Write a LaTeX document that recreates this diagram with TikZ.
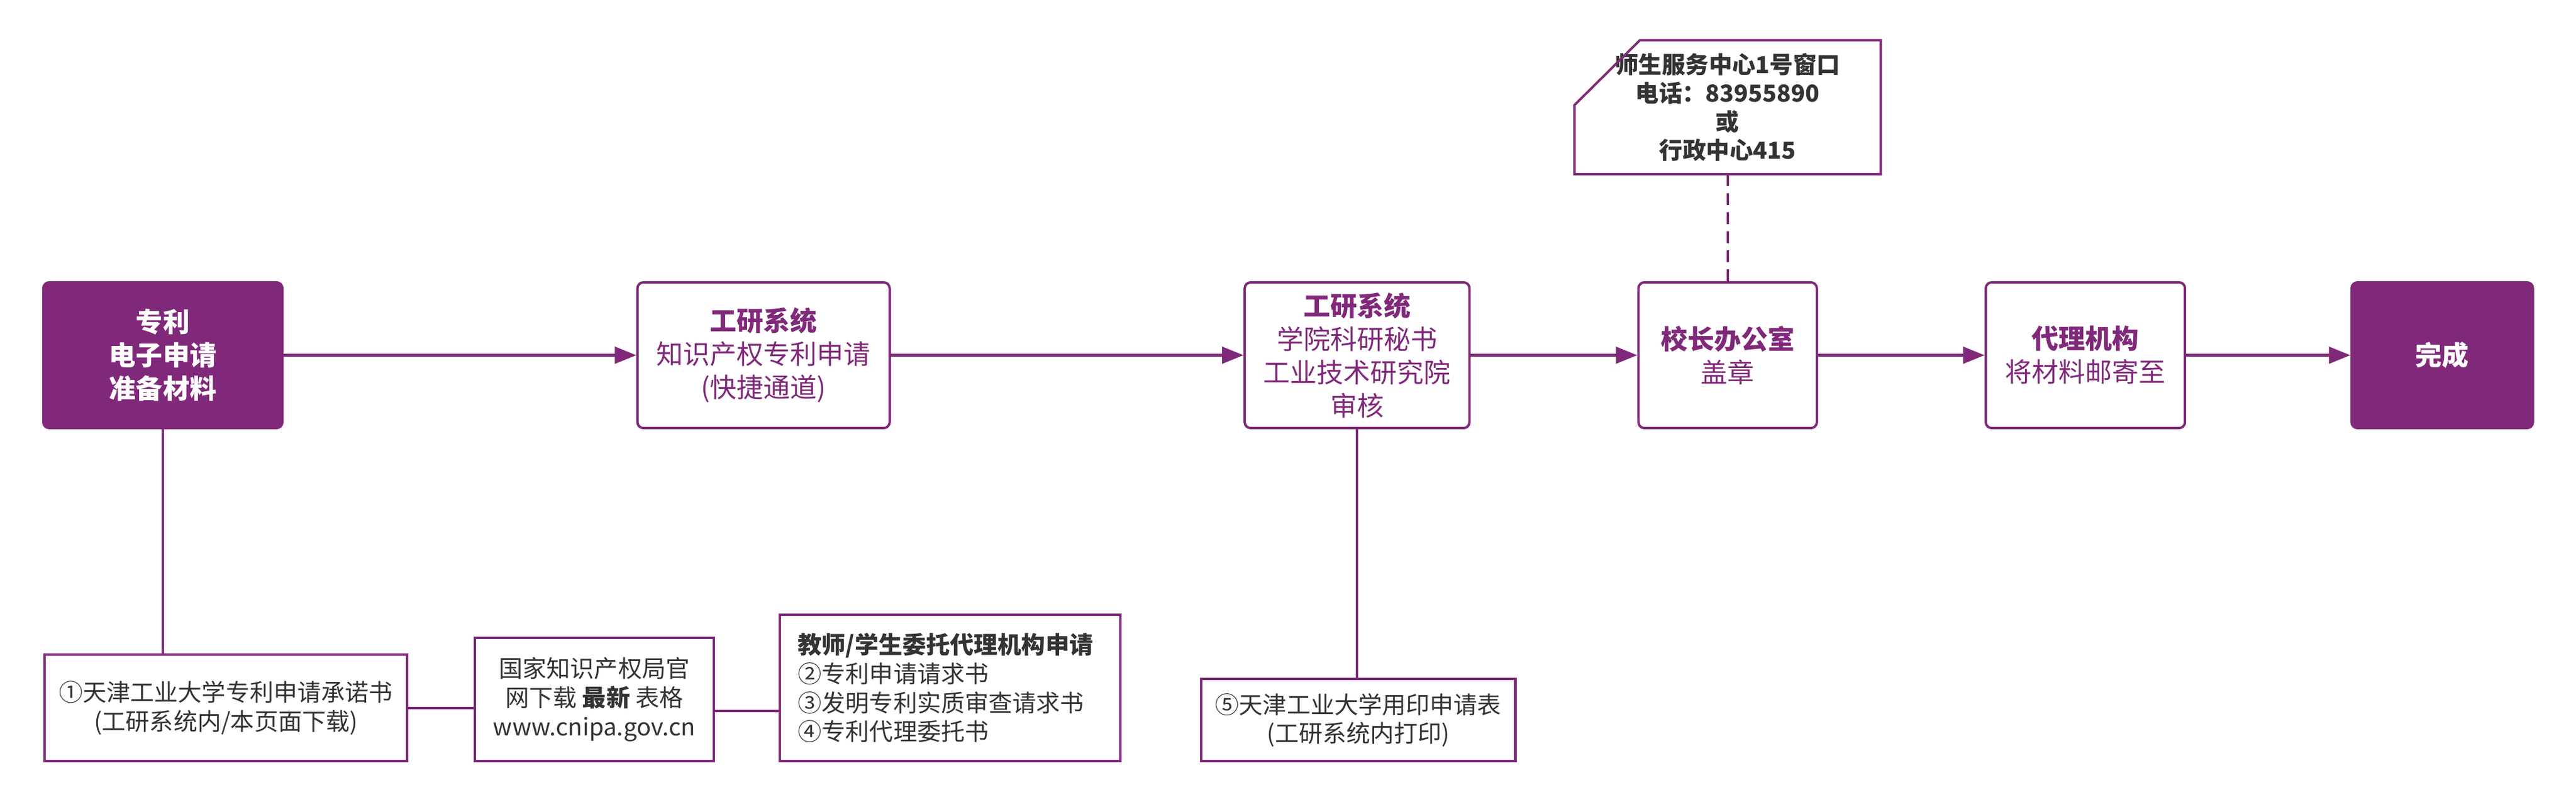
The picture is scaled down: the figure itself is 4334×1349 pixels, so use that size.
\documentclass[tikz,border=0pt]{standalone}
\usepackage{fontspec}
\setmainfont{Noto Sans CJK SC}
\usetikzlibrary{arrows.meta,positioning}
\definecolor{ppl}{RGB}{128,41,122}
\definecolor{txt}{RGB}{51,51,51}

\begin{document}
\begin{tikzpicture}[x=0.01cm,y=-0.01cm,-,>={Triangle[length=3.6mm,width=2.8mm]},line width=1.15pt,draw=ppl,
 stepbox/.style={rectangle,rounded corners=0.1cm,draw=ppl,fill=white,text=ppl,align=center,inner sep=2pt,minimum height=2.45cm,font=\fontsize{12.8pt}{15.9pt}\selectfont},
 endbox/.style={stepbox,fill=ppl,text=white,font=\fontsize{12.8pt}{15.9pt}\selectfont\bfseries},
 docbox/.style={rectangle,draw=ppl,fill=white,text=txt,align=center,inner sep=2pt,font=\fontsize{11.4pt}{13.9pt}\selectfont}]
 \useasboundingbox (0,0) rectangle (4334,1349);

 % main steps
 \node[endbox,minimum width=4.02cm] (prep) at (274,597.5) {专利\\电子申请\\准备材料};
 \node[stepbox,minimum width=4.24cm] (fast) [right=5.93cm of prep] {\textbf{工研系统}\\知识产权专利申请\\(快捷通道)};
 \node[stepbox,minimum width=3.78cm] (check) [right=5.93cm of fast] {\textbf{工研系统}\\学院科研秘书\\工业技术研究院\\审核};
 \node[stepbox,minimum width=3.00cm] (seal) [right=2.80cm of check] {\textbf{校长办公室}\\盖章};
 \node[stepbox,minimum width=3.35cm] (agent) [right=2.80cm of seal] {\textbf{代理机构}\\将材料邮寄至};
 \node[endbox,minimum width=3.05cm] (done) [right=2.76cm of agent] {完成};

 % note above the seal step
 \node[text=txt,align=center,minimum width=5.11cm,minimum height=2.21cm,font=\fontsize{11.2pt}{13.7pt}\selectfont\bfseries] (note) [above=1.8cm of seal] {师生服务中心1号窗口\\电话：83955890\\或\\行政中心415};
 \draw[ppl] ([yshift=-1.09cm]note.north west) -- ([xshift=1.1cm]note.north west) -- (note.north east)
  -- (note.south east) -- (note.south west) -- cycle;

 % documents
 \node[docbox,minimum width=6.10cm,minimum height=1.79cm] (form1) [below=3.77cm of prep,xshift=1.06cm] {①天津工业大学专利申请承诺书\\(工研系统内/本页面下载)};
 \node[docbox,minimum width=4.01cm,minimum height=2.07cm] (cnipa) [right=1.10cm of form1.south east,anchor=south west] {国家知识产权局官\\网下载 \textbf{最新} 表格\\www.cnipa.gov.cn};
 \node[docbox,align=left,text width=5.11cm,minimum width=5.73cm,minimum height=2.33cm,inner sep=0.31cm] (forms) [right=1.07cm of cnipa.south east,anchor=south west] {\textbf{教师/学生委托代理机构申请}\\②专利申请请求书\\③发明专利实质审查请求书\\④专利代理委托书};
 \node[docbox,minimum width=5.28cm,minimum height=1.38cm] (form5) [right=1.32cm of forms.south east,anchor=south west] {⑤天津工业大学用印申请表\\(工研系统内打印)};

 % connectors
 \path[draw=ppl]
 (prep) edge[->] (fast)
 (fast) edge[->] (check)
 (check) edge[->] (seal)
 (seal) edge[->] (agent)
 (agent) edge[->] (done);
 \draw[ppl,dash pattern=on 0.2cm off 0.12cm] (note.south) -- (seal.north);
 \draw[ppl] (prep.south) -- (prep.south |- form1.north);
 \draw[ppl] (form1.east) -- (form1.east -| cnipa.west);
 \draw[ppl] ([yshift=-0.195cm]cnipa.east) -- ([yshift=-0.195cm]cnipa.east -| forms.west);
 \draw[ppl] (check.south) -- (check.south |- form5.north);
\end{tikzpicture}
\end{document}
